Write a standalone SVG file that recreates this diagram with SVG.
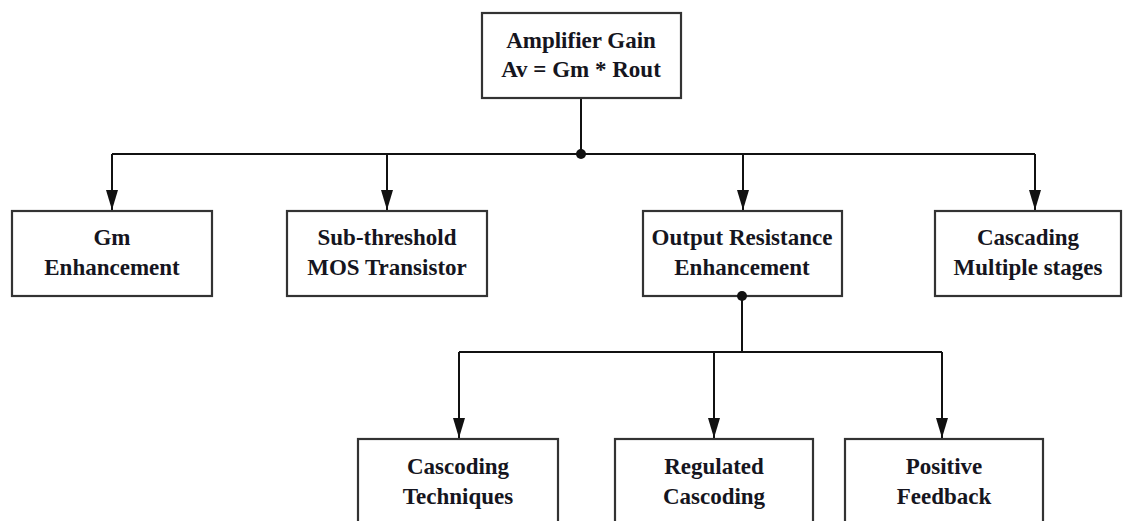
<svg xmlns="http://www.w3.org/2000/svg" width="1124" height="521" viewBox="0 0 1124 521">
<defs>
<style>
.box{fill:#fff;stroke:#333;stroke-width:2.2}
.t{font-family:'Liberation Serif','Times New Roman',serif;font-weight:bold;font-size:23px;fill:#151520;text-anchor:middle}
.ln{stroke:#111;stroke-width:2;fill:none}
</style>
<marker id="ah" viewBox="0 0 20 12" refX="20" refY="6" markerWidth="20" markerHeight="12" markerUnits="userSpaceOnUse" orient="auto">
<path d="M0,0 L20,6 L0,12 Z" fill="#111"/>
</marker>
</defs>
<rect width="1124" height="521" fill="#fff"/>
<g id="connectors">
<path class="ln" d="M581,98 V154"/>
<path class="ln" d="M112,154 H1035"/>
<path class="ln" d="M112,154 V210" marker-end="url(#ah)"/>
<path class="ln" d="M387,154 V210" marker-end="url(#ah)"/>
<path class="ln" d="M743,154 V210" marker-end="url(#ah)"/>
<path class="ln" d="M1035,154 V210" marker-end="url(#ah)"/>
<circle cx="581" cy="154" r="5" fill="#111"/>
<path class="ln" d="M742,296 V352"/>
<path class="ln" d="M459,352 H942"/>
<path class="ln" d="M459,352 V438" marker-end="url(#ah)"/>
<path class="ln" d="M714,352 V438" marker-end="url(#ah)"/>
<path class="ln" d="M942,352 V438" marker-end="url(#ah)"/>
</g>
<g id="n-gain">
<rect class="box" x="482" y="13" width="199" height="85"/>
<text class="t" x="581" y="48">Amplifier Gain</text>
<text class="t" x="581" y="77">Av = Gm * Rout</text>
</g>
<g id="n-gm">
<rect class="box" x="12" y="211" width="200" height="85"/>
<text class="t" x="112" y="245">Gm</text>
<text class="t" x="112" y="275">Enhancement</text>
</g>
<g id="n-sub">
<rect class="box" x="287" y="211" width="200" height="85"/>
<text class="t" x="387" y="245">Sub-threshold</text>
<text class="t" x="387" y="275">MOS Transistor</text>
</g>
<g id="n-rout">
<rect class="box" x="643" y="211" width="199" height="85"/>
<text class="t" x="742" y="245">Output Resistance</text>
<text class="t" x="742" y="275">Enhancement</text>
</g>
<circle cx="742" cy="296" r="5" fill="#111"/>
<g id="n-multi">
<rect class="box" x="935" y="211" width="186" height="85"/>
<text class="t" x="1028" y="245">Cascading</text>
<text class="t" x="1028" y="275">Multiple stages</text>
</g>
<g id="n-casc">
<rect class="box" x="358" y="439" width="200" height="95"/>
<text class="t" x="458" y="474">Cascoding</text>
<text class="t" x="458" y="504">Techniques</text>
</g>
<g id="n-reg">
<rect class="box" x="615" y="439" width="198" height="95"/>
<text class="t" x="714" y="474">Regulated</text>
<text class="t" x="714" y="504">Cascoding</text>
</g>
<g id="n-pos">
<rect class="box" x="845" y="439" width="198" height="95"/>
<text class="t" x="944" y="474">Positive</text>
<text class="t" x="944" y="504">Feedback</text>
</g>
</svg>
